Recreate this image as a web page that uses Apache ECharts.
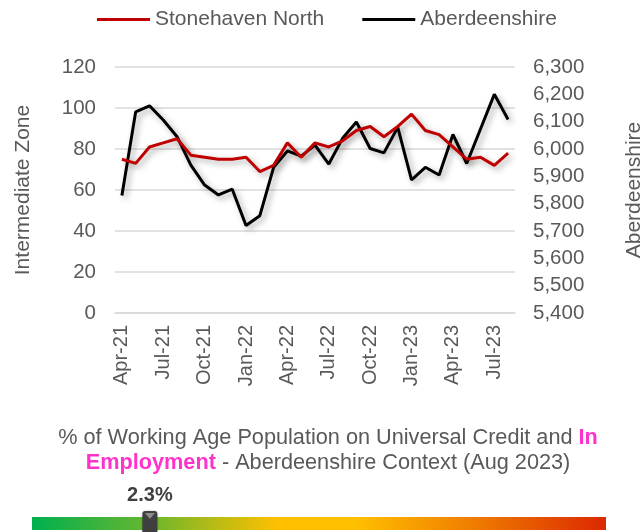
<!DOCTYPE html>
<html>
<head>
<meta charset="utf-8">
<title></title>
<script src="https://cdn.jsdelivr.net/npm/echarts@6/dist/echarts.min.js"></script>
<style>
  html, body { margin: 0; padding: 0; background: #fff; }
  #main { width: 644px; height: 532px; }
</style>
</head>
<body>
<div id="main"></div>
<script type="text/javascript">
  // months shown on the x axis
  var months = ['Apr-21', 'May-21', 'Jun-21', 'Jul-21', 'Aug-21', 'Sep-21', 'Oct-21', 'Nov-21', 'Dec-21',
    'Jan-22', 'Feb-22', 'Mar-22', 'Apr-22', 'May-22', 'Jun-22', 'Jul-22', 'Aug-22', 'Sep-22', 'Oct-22',
    'Nov-22', 'Dec-22', 'Jan-23', 'Feb-23', 'Mar-23', 'Apr-23', 'May-23', 'Jun-23', 'Jul-23', 'Aug-23'];
  // Intermediate Zone (left axis)
  var stonehavenNorth = [75, 73, 81, 83, 85, 77, 76, 75, 75, 76, 69, 72, 83, 76, 83, 81, 84, 89, 91, 86,
    91, 97, 89, 87, 81, 75, 76, 72, 78];
  // Aberdeenshire (right axis)
  var aberdeenshire = [5830, 6136, 6158, 6106, 6045, 5941, 5868, 5832, 5853, 5720, 5756, 5933, 5993, 5974,
    6014, 5945, 6039, 6099, 6002, 5986, 6079, 5887, 5933, 5905, 6053, 5947, 6073, 6200, 6108];

  // context gauge underneath
  var gaugeMin = 0;
  var gaugeMax = 11.2;
  var gaugeValue = 2.3;

  var grey = '#595959';
  var font = 'Liberation Sans, Arial, sans-serif';

  var myChart = echarts.init(document.getElementById('main'));

  myChart.setOption({
    animation: false,
    textStyle: { fontFamily: font },
    title: {
      text: '{n|% of Working Age Population on Universal Credit and }{p|In}\n{p|Employment}{n| - Aberdeenshire Context (Aug 2023)}',
      left: 323,
      textAlign: 'center',
      top: 421,
      textStyle: {
        fontWeight: 'normal',
        rich: {
          n: { fontSize: 21.7, color: grey, fontWeight: 'normal', fontFamily: font, lineHeight: 25, align: 'center' },
          p: { fontSize: 21.7, color: '#FF33CC', fontWeight: 'bold', fontFamily: font, lineHeight: 25, align: 'center' }
        }
      }
    },
    legend: {
      left: 92,
      top: 4,
      itemWidth: 53,
      itemHeight: 3,
      itemGap: 38,
      icon: 'rect',
      textStyle: { fontSize: 21, color: grey, fontFamily: font },
      data: ['Stonehaven North', 'Aberdeenshire']
    },
    grid: [
      { left: 115, right: 129, top: 67, height: 246, outerBoundsMode: 'none' },
      { left: 32, right: 38, top: 511, bottom: 0, outerBoundsMode: 'none' }
    ],
    xAxis: [{
      type: 'category',
      gridIndex: 0,
      data: months,
      boundaryGap: true,
      axisLine: { lineStyle: { color: '#D9D9D9', width: 1.5 } },
      axisTick: { interval: 2, length: 5, lineStyle: { color: '#D9D9D9', width: 1.5 } },
      axisLabel: { interval: 2, rotate: 90, margin: 12, fontSize: 20, color: grey, fontFamily: font }
    }, {
      type: 'value',
      gridIndex: 1,
      min: gaugeMin,
      max: gaugeMax,
      show: false
    }],
    yAxis: [{
      type: 'value',
      gridIndex: 0,
      min: 0,
      max: 120,
      interval: 20,
      name: 'Intermediate Zone',
      nameLocation: 'middle',
      nameRotate: 90,
      nameGap: 81,
      nameTextStyle: { fontSize: 21, color: grey, fontFamily: font },
      axisLine: { show: false },
      axisTick: { show: false },
      axisLabel: { margin: 19, fontSize: 20.5, color: grey, fontFamily: font },
      splitLine: { lineStyle: { color: '#D9D9D9', width: 1.5 } }
    }, {
      type: 'value',
      gridIndex: 0,
      position: 'right',
      min: 5400,
      max: 6300,
      interval: 100,
      name: 'Aberdeenshire',
      nameLocation: 'middle',
      nameRotate: 90,
      nameGap: 109,
      nameTextStyle: { fontSize: 21, color: grey, fontFamily: font },
      axisLine: { show: false },
      axisTick: { show: false },
      splitLine: { show: false },
      axisLabel: {
        margin: 18, fontSize: 20.5, color: grey, fontFamily: font,
        formatter: function (v) { return v.toLocaleString('en-GB'); }
      }
    }, {
      type: 'value',
      gridIndex: 1,
      min: 0,
      max: 1,
      show: false
    }],
    series: [{
      name: 'Stonehaven North',
      type: 'line',
      xAxisIndex: 0,
      yAxisIndex: 0,
      data: stonehavenNorth,
      symbol: 'none',
      color: '#C00000',
      lineStyle: {
        width: 3, color: '#C00000',
        shadowColor: 'rgba(0,0,0,0.35)', shadowBlur: 6, shadowOffsetX: 3, shadowOffsetY: 3
      },
      z: 3
    }, {
      name: 'Aberdeenshire',
      type: 'line',
      xAxisIndex: 0,
      yAxisIndex: 1,
      data: aberdeenshire,
      symbol: 'none',
      color: '#000000',
      lineStyle: {
        width: 3, color: '#000000',
        shadowColor: 'rgba(0,0,0,0.35)', shadowBlur: 6, shadowOffsetX: 3, shadowOffsetY: 3
      },
      z: 2
    }, {
      // gradient bar + marker
      type: 'custom',
      xAxisIndex: 1,
      yAxisIndex: 2,
      silent: true,
      data: [[gaugeMin, gaugeMax, gaugeValue]],
      renderItem: function (params, api) {
        var start = api.coord([api.value(0), 0]);
        var end = api.coord([api.value(1), 0]);
        var mark = api.coord([api.value(2), 0]);
        var top = params.coordSys.y;
        return {
          type: 'group',
          children: [{
            type: 'rect',
            shape: { x: start[0], y: top + 6, width: end[0] - start[0], height: 13 },
            style: {
              fill: new echarts.graphic.LinearGradient(0, 0, 1, 0, [
                { offset: 0, color: '#00B050' },
                { offset: 0.2, color: '#66B62F' },
                { offset: 0.33, color: '#C0BC12' },
                { offset: 0.43, color: '#FFC000' },
                { offset: 0.56, color: '#FFC000' },
                { offset: 0.76, color: '#F08000' },
                { offset: 1, color: '#DC2800' }
              ])
            }
          }, {
            type: 'rect',
            shape: { x: mark[0] - 7.5, y: top, width: 15, height: 26, r: [3, 3, 0, 0] },
            style: { fill: '#3F3F3F', shadowColor: 'rgba(0,0,0,0.3)', shadowBlur: 2 }
          }, {
            type: 'polygon',
            shape: { points: [[mark[0] - 5, top + 2], [mark[0] + 5, top + 2], [mark[0], top + 8]] },
            style: { fill: '#8C8C8C' }
          }, {
            type: 'text',
            x: mark[0],
            y: top - 16,
            style: {
              text: api.value(2) + '%',
              fill: '#404040',
              font: 'bold 20px ' + font,
              align: 'center',
              verticalAlign: 'middle'
            }
          }]
        };
      }
    }]
  });
</script>
</body>
</html>
